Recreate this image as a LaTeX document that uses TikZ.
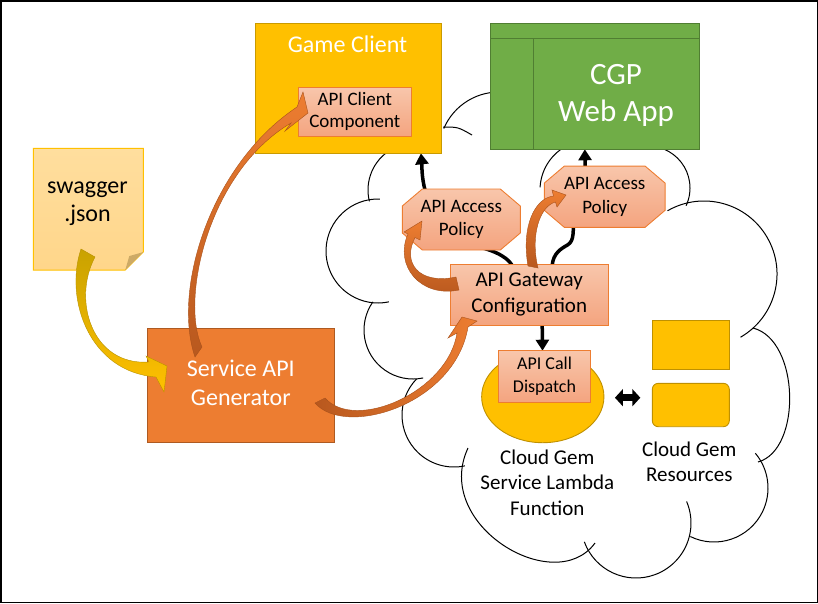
\documentclass[tikz,border=0pt]{standalone}
\usepackage{fontspec}
\setmainfont{Carlito}
\usetikzlibrary{arrows.meta,calc,shapes.geometric}
\pgfdeclarelayer{back}
\pgfdeclarelayer{mid}
\pgfsetlayers{back,mid,main}
\definecolor{gold}{HTML}{FFC000}
\definecolor{golddraw}{HTML}{BF9000}
\definecolor{gcdraw}{HTML}{C99A00}
\definecolor{orng}{HTML}{ED7D31}
\definecolor{orngdraw}{HTML}{AE5A21}
\definecolor{orngdark}{HTML}{B8581E}
\definecolor{grn}{HTML}{70AD47}
\definecolor{grndraw}{HTML}{507E32}
\definecolor{salmtop}{HTML}{F8C6AB}
\definecolor{salmbot}{HTML}{F4A47F}
\definecolor{notefill}{HTML}{FFD68A}
\definecolor{notetop}{HTML}{FFDE9E}
\definecolor{fold}{HTML}{CDAA66}
\definecolor{ydark}{HTML}{C9A200}
\definecolor{yedge}{HTML}{B89200}
\definecolor{oedge}{HTML}{A9521C}
\tikzset{
  every node/.style={inner sep=0pt, outer sep=0pt},
  salmon/.style={top color=salmtop, bottom color=salmbot, draw=orng, line width=0.9pt},
  box/.style={line width=0.9pt},
  wtext/.style={text=white, align=center},
  btext/.style={text=black, align=center},
  cloudline/.style={draw=black, line width=1pt},
  blk/.style={line width=3.5pt, -{Triangle[length=11pt,width=13pt]}},
  blkline/.style={line width=3.5pt},
  dblarrow/.style={line width=7pt, {Triangle[length=8pt,width=17pt]}-{Triangle[length=8pt,width=17pt]}},
  fatorange/.style={draw=oedge, line width=0.4pt},
}
\newcommand\lobe[5]{\draw[cloudline] ($(#1,#2)+(#4:#3)$) arc[start angle=#4,end angle=#5,radius=#3];}
\newcommand\octshape[1]{\shade[salmon] ($(#1.north west)+(20,0)$) -- ($(#1.north east)+(-20,0)$) -- ($(#1.north east)+(0,17)$) -- ($(#1.south east)+(0,-17)$) -- ($(#1.south east)+(-20,0)$) -- ($(#1.south west)+(20,0)$) -- ($(#1.south west)+(0,-17)$) -- ($(#1.north west)+(0,17)$) -- cycle;}
\begin{document}
\begin{tikzpicture}[x=1pt,y=-1pt]
\useasboundingbox (0,0) rectangle (818,603);
\draw[line width=1.5pt] (0.75,0.75) rectangle (817.25,602.25);

% ---------- nodes ----------
\node[box, fill=gold, draw=gcdraw, minimum width=186.7, minimum height=130] (gc) at (348.4,88.3) {};
\node[wtext, font=\fontsize{24}{29}\selectfont] (gctitle) at (347.5,44.7) {Game Client};
\node[salmon, btext, minimum width=113, minimum height=49.4, font=\fontsize{19}{22.6}\selectfont] (apiclient) at (354.8,112) {\strut API Client\\\strut Component};

\node[box, fill=grn, draw=grndraw, line width=1.2pt, minimum width=209, minimum height=126] (cgp) at (594.8,86.3) {};
\draw[grndraw, line width=1.2pt] ($(cgp.north west)+(0,15)$) -- ($(cgp.north east)+(0,15)$);
\draw[grndraw, line width=1.2pt] ($(cgp.north west)+(43,15)$) -- ($(cgp.south west)+(43,0)$);
\node[wtext, font=\fontsize{31}{36.7}\selectfont] (cgptext) at (616,96) {\strut CGP\\\strut Web App};

\node[minimum width=110, minimum height=121.7] (swagger) at (88.3,209.2) {};
\shade[top color=notetop, bottom color=notefill, draw=gold, line width=0.9pt] (swagger.north west) -- (swagger.north east) -- ($(swagger.south east)+(0,-18)$) -- ($(swagger.south east)+(-18,0)$) -- (swagger.south west) -- cycle;
\fill[fold] ($(swagger.south east)+(-18,0)$) -- ($(swagger.south east)+(-14,-14)$) -- ($(swagger.south east)+(0,-18)$) -- cycle;
\node[btext, font=\fontsize{24}{28.4}\selectfont] (swaggertext) at (87.5,201.8) {\strut swagger\\\strut .json};

\node[box, fill=orng, draw=orngdraw, wtext, minimum width=187, minimum height=114, font=\fontsize{24}{28.4}\selectfont] (sag) at (240.8,385.3) {\strut Service API\\\strut Generator};

\node[btext, minimum width=118, minimum height=61, font=\fontsize{19}{23.3}\selectfont] (oct1) at (461.3,219.5) {\strut API Access\\\strut Policy};
\node[btext, minimum width=120.7, minimum height=61.3, font=\fontsize{19}{23.3}\selectfont] (oct2) at (604.7,196.7) {\strut API Access\\\strut Policy};

\node[salmon, btext, minimum width=158.3, minimum height=60.7, font=\fontsize{21}{25.7}\selectfont] (gw) at (529.2,294.7) {\strut API Gateway\\\strut Configuration};

\node[ellipse, box, fill=gold, draw=golddraw, minimum width=122.3, minimum height=92] (lambda) at (542.8,396.7) {};
\node[salmon, btext, minimum width=92.4, minimum height=51.6, font=\fontsize{18}{23.3}\selectfont] (disp) at (544.5,376.5) {\strut API Call\\\strut Dispatch};

\node[box, fill=gold, draw=golddraw, minimum width=77.3, minimum height=48.6] (res1) at (690.7,345) {};
\node[box, fill=gold, draw=golddraw, rounded corners=6pt, minimum width=77, minimum height=43.4] (res2) at (690.8,405) {};

\node[btext, font=\fontsize{21}{25.5}\selectfont] (lambdatext) at (547.3,484.4) {\strut Cloud Gem\\\strut Service Lambda\\\strut Function};
\node[btext, font=\fontsize{21}{25.7}\selectfont] (restext) at (689.3,463.7) {\strut Cloud Gem\\\strut Resources};

% ---------- octagon shapes ----------
\begin{pgfonlayer}{mid}
\octshape{oct1}
\octshape{oct2}
\end{pgfonlayer}

% ---------- cloud and black connectors ----------
\begin{pgfonlayer}{back}
\lobe{499}{152}{60}{203}{275}
\draw[cloudline] (443,127) .. controls (458,127) .. (472,135);
\lobe{415}{190}{47}{166}{240}
\lobe{378}{251}{52}{272}{78}
\lobe{413}{330}{49}{215}{78}
\lobe{454}{415}{52}{224}{78}
\draw[cloudline] (468,448) .. controls (432,525) and (555,598) .. (595,543);
\lobe{636}{523}{55}{160}{-23}
\lobe{714}{488}{54}{116}{-40}
\draw[cloudline] (753,328) .. controls (800,340) and (802,450) .. (758,462);
\lobe{704}{274}{73}{240}{420}
\lobe{648}{188}{42}{-68}{25}
\lobe{590}{190}{50}{183}{240}

\draw[blk] ($(oct1.north)+(-36,2)$) .. controls +(-4,-14) and +(1,10) .. ($(gc.south)+(72.5,0)$);
\draw[blkline] ($(gw.north)+(-17,1)$) .. controls +(-6,-10) and +(20,4) .. ($(oct1.south)+(9,-5)$);
\draw[blkline] ($(gw.north)+(23,1)$) .. controls +(1,-12) and +(-7,4) .. ($(oct2.south)+(-37,17.5)$) .. controls +(7,-4) and +(-1,6) .. ($(oct2.south)+(-31,-4)$);
\draw[blk] ($(oct2.north)+(-19.5,2)$) -- ($(cgp.south)+(-10,0)$);
\draw[blk] ($(gw.south)+(13,0)$) -- ($(disp.north)+(-2,0)$);
\end{pgfonlayer}

\draw[dblarrow] ($(lambda.east)+(11,1)$) -- ($(res2.west |- lambda.east)+(-12,1)$);

% ---------- fat curved arrows ----------
\shade[top color=ydark, bottom color=gold, draw=yedge, line width=0.4pt]
  (81,249) .. controls (64,300) and (90,372) .. (156,377) -- (164,392) -- (167,366) -- (146,356) -- (149,362)
  .. controls (92,366) and (72,300) .. (95,257) -- cycle;
\shade[top color=orng, bottom color=orngdark, fatorange]
  (195,357) .. controls (172,290) and (210,165) .. (297,107) -- (303,92) -- (308,113) -- (285,131) -- (291,123)
  .. controls (208,172) and (180,300) .. (202,347) -- cycle;
\shade[left color=orngdark, right color=orng, fatorange]
  (315,403) .. controls (345,438) and (455,405) .. (468,327) -- (477,321) -- (462,317) -- (448,338) -- (457,333)
  .. controls (448,392) and (355,432) .. (325,398) -- cycle;
\shade[top color=orng, bottom color=orngdark, fatorange]
  (459,290) .. controls (420,298) and (394,265) .. (408,234) -- (404,232) -- (422,221) -- (420,240) -- (415,237.5)
  .. controls (402,262) and (418,285) .. (456,277) -- cycle;
\shade[top color=orng, bottom color=orngdark, fatorange]
  (528,266) .. controls (521,226) and (535,198) .. (553.5,196) -- (552,190) -- (566,195) -- (557,207) -- (555.5,202)
  .. controls (540,206) and (530,235) .. (538,268) -- cycle;
\end{tikzpicture}
\end{document}
